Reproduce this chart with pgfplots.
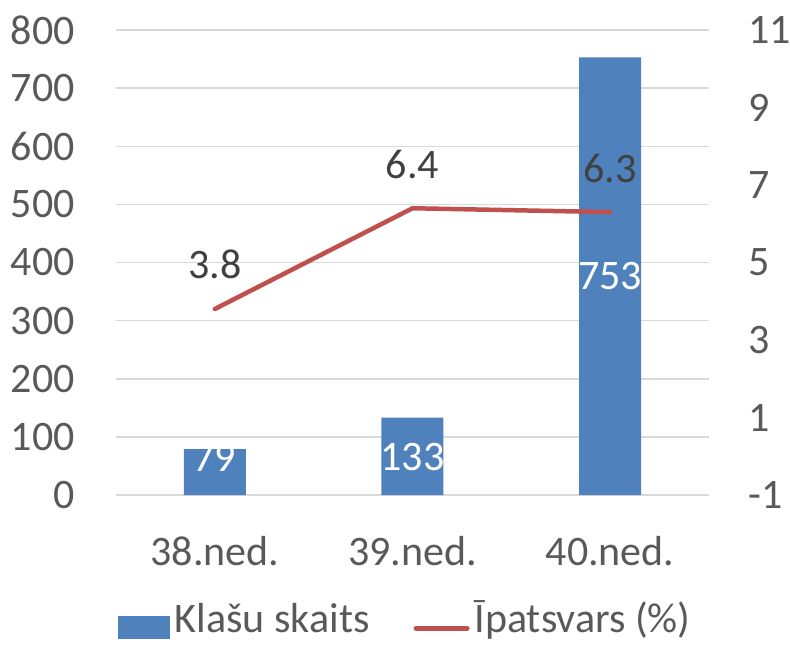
\documentclass[border=0pt]{standalone}
\usepackage{fontspec}
\setmainfont{Carlito}
\usepackage{pgfplots}
\pgfplotsset{compat=1.18}
\definecolor{barblue}{HTML}{4F81BD}
\definecolor{linered}{HTML}{C0504D}
\definecolor{txtgray}{HTML}{595959}
\definecolor{lblgray}{HTML}{404040}
\definecolor{gridgray}{HTML}{D9D9D9}
\newcommand{\bigf}{\fontsize{42}{50}\selectfont}
\pgfplotsset{/pgf/number format/assume math mode=true}
\begin{document}
\begin{tikzpicture}[font=\bigf]
\useasboundingbox (-116pt,-151pt) rectangle (674pt,495pt);
\begin{axis}[
  scale only axis, width=593pt, height=465pt,
  xmin=-0.5, xmax=2.5, ymin=0, ymax=800,
  xtick={0,1,2}, xticklabels={38.ned.,39.ned.,40.ned.},
  ytick={0,100,...,800},
  axis line style={draw=none},
  major tick length=0pt, tick style={draw=none},
  ymajorgrids, grid style={gridgray, line width=1.5pt},
  tick label style={txtgray, font=\bigf, inner sep=0pt},
  yticklabel style={anchor=east, xshift=-41pt},
  xticklabel style={anchor=base, yshift=-70pt},
  clip=false,
  legend style={draw=none, fill=none, inner sep=0pt, outer sep=0pt,
    at={(0.00337,-0.285)}, anchor=west, legend columns=4,
    font=\bigf, text=txtgray,
    nodes={inner sep=0pt, text height=0.75em, text depth=0.25em},
    /tikz/every odd column/.append style={column sep=5pt},
    /tikz/every even column/.append style={column sep=44pt}},
  legend cell align=left,
]
\addplot[ybar, bar width=62pt, fill=barblue, draw=none,
  legend image code/.code={\fill[barblue] (0pt,-9.5pt) rectangle (52pt,13.5pt);}]
  coordinates {(0,79) (1,133) (2,753)};
\addlegendentry{Klašu skaits}
\addplot[draw=none, mark=none, forget plot, nodes near coords, point meta=explicit,
  every node near coord/.append style={white, anchor=center, inner sep=0pt, font=\bigf}]
  coordinates {(0,64) [79] (1,66) [133] (2,376) [753]};
\addlegendimage{legend image code/.code={\draw[linered, line width=5pt, line cap=round] (2.5pt,1.5pt) -- (53.5pt,1.5pt);}}
\addlegendentry{Īpatsvars (\%)}
\end{axis}
\begin{axis}[
  scale only axis, width=593pt, height=465pt,
  xmin=-0.5, xmax=2.5, ymin=-1, ymax=11,
  axis x line=none, axis y line*=right,
  ytick={-1,1,3,5,7,9,11}, yticklabels={-1,1,3,5,7,9,11},
  axis line style={draw=none},
  major tick length=0pt, tick style={draw=none},
  tick label style={txtgray, font=\bigf, inner sep=0pt},
  yticklabel style={anchor=west, xshift=39pt},
  clip=false,
]
\addplot[linered, line width=4.5pt, line join=round, line cap=round, mark=none,
  nodes near coords,
  every node near coord/.append style={lblgray, anchor=base, yshift=30pt, inner sep=0pt, font=\bigf}]
  coordinates {(0,3.8) (1,6.4) (2,6.3)};
\end{axis}
\end{tikzpicture}
\end{document}
